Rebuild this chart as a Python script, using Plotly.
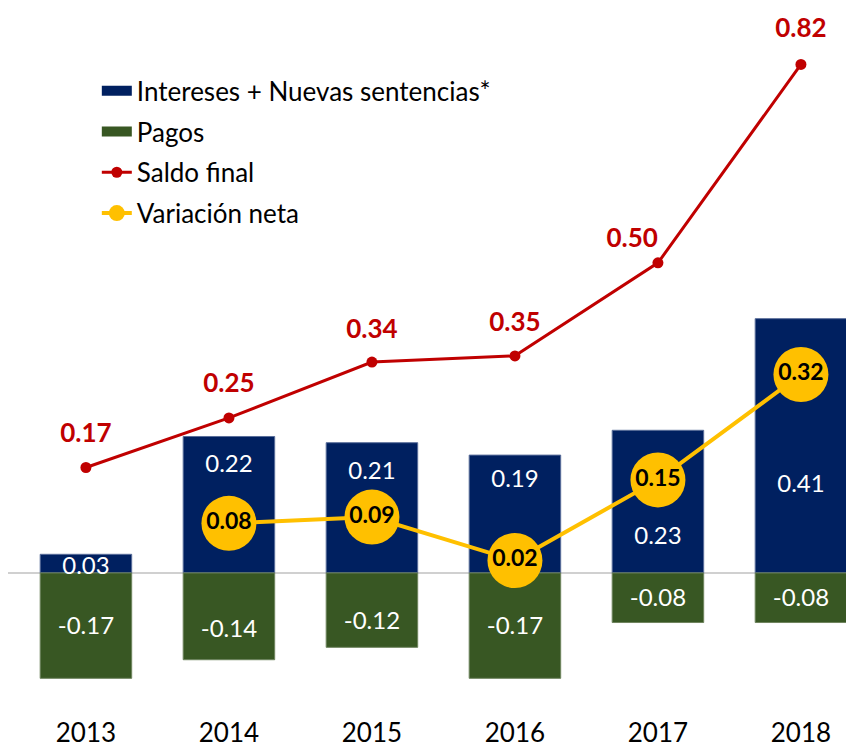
import plotly.graph_objects as go

years = ["2013", "2014", "2015", "2016", "2017", "2018"]
intereses = [0.03, 0.22, 0.21, 0.19, 0.23, 0.41]
pagos = [-0.17, -0.14, -0.12, -0.17, -0.08, -0.08]
saldo_final = [0.17, 0.25, 0.34, 0.35, 0.50, 0.82]
variacion_neta = [None, 0.08, 0.09, 0.02, 0.15, 0.32]

FONT = "Lato, 'Open Sans', sans-serif"
NAVY = "#002060"
GREEN = "#385723"
RED = "#C00000"
YELLOW = "#FFC000"

# where the bar labels sit inside the bars (moved around the circles, as in the original)
label_pos_int = [0.008, 0.173, 0.161, 0.148, 0.056, 0.14]
label_pos_pag = [-0.089, -0.094, -0.081, -0.089, -0.044, -0.044]
saldo_label_offset = [0.052, 0.052, 0.050, 0.050, 0.036, 0.054]
saldo_label_side = ["middle center"] * 4 + ["middle left", "middle center"]

fig = go.Figure()
fig.add_trace(go.Bar(
    x=years, y=intereses, showlegend=False,
    marker=dict(color=NAVY, line=dict(color="#5A6E9A", width=1)),
    width=0.64,
))
fig.add_trace(go.Bar(
    x=years, y=pagos, showlegend=False,
    marker=dict(color=GREEN, line=dict(color="#6E845E", width=1)),
    width=0.64,
))
# legend swatches for the bars (wide rectangles)
fig.add_trace(go.Scatter(x=[None], y=[None], mode="lines", name="Intereses + Nuevas sentencias*",
                         line=dict(color=NAVY, width=15), legendgroup="a"))
fig.add_trace(go.Scatter(x=[None], y=[None], mode="lines", name="Pagos",
                         line=dict(color=GREEN, width=15), legendgroup="b"))
fig.add_trace(go.Scatter(
    x=years, y=saldo_final, name="Saldo final", legendgroup="c",
    mode="lines+markers",
    line=dict(color=RED, width=3),
    marker=dict(color=RED, size=11),
))
fig.add_trace(go.Scatter(
    x=years, y=variacion_neta, name="Variación neta", legendgroup="d",
    mode="lines+markers+text",
    line=dict(color=YELLOW, width=4),
    marker=dict(color=YELLOW, size=55),
    text=[("" if v is None else "%.2f" % v) for v in variacion_neta],
    textposition="middle center",
    textfont=dict(family=FONT, size=23, color="black", weight="bold"),
))

# value labels
fig.add_trace(go.Scatter(
    x=years, y=label_pos_int, mode="text", showlegend=False, hoverinfo="skip",
    text=["%.2f" % v for v in intereses],
    textfont=dict(family=FONT, size=24, color="white"),
))
fig.add_trace(go.Scatter(
    x=years, y=label_pos_pag, mode="text", showlegend=False, hoverinfo="skip",
    text=["%.2f" % v for v in pagos],
    textfont=dict(family=FONT, size=24, color="white"),
))
fig.add_trace(go.Scatter(
    x=years, y=[v + o for v, o in zip(saldo_final, saldo_label_offset)], mode="text",
    showlegend=False, hoverinfo="skip",
    text=["%.2f" % v for v in saldo_final],
    textposition=saldo_label_side,
    textfont=dict(family=FONT, size=26, color=RED, weight="bold"),
    cliponaxis=False,
))

fig.update_layout(
    width=854, height=747,
    margin=dict(l=0, r=0, t=0, b=50),
    plot_bgcolor="white", paper_bgcolor="white",
    barmode="relative",
    font=dict(family=FONT, size=24, color="black"),
    showlegend=True,
    legend=dict(x=0.104, y=0.915, xanchor="left", yanchor="top",
                bgcolor="rgba(0,0,0,0)", traceorder="grouped", tracegroupgap=4,
                font=dict(family=FONT, size=26)),
    xaxis=dict(type="category", range=[-0.545, 5.427], showgrid=False, ticks="", showline=False,
               tickfont=dict(family=FONT, size=26), ticklabelstandoff=10),
    yaxis=dict(range=[-0.213, 0.911], showgrid=False, showticklabels=False,
               zeroline=True, zerolinecolor="#D0D0D0", zerolinewidth=2),
)

fig.write_html("out.html")
